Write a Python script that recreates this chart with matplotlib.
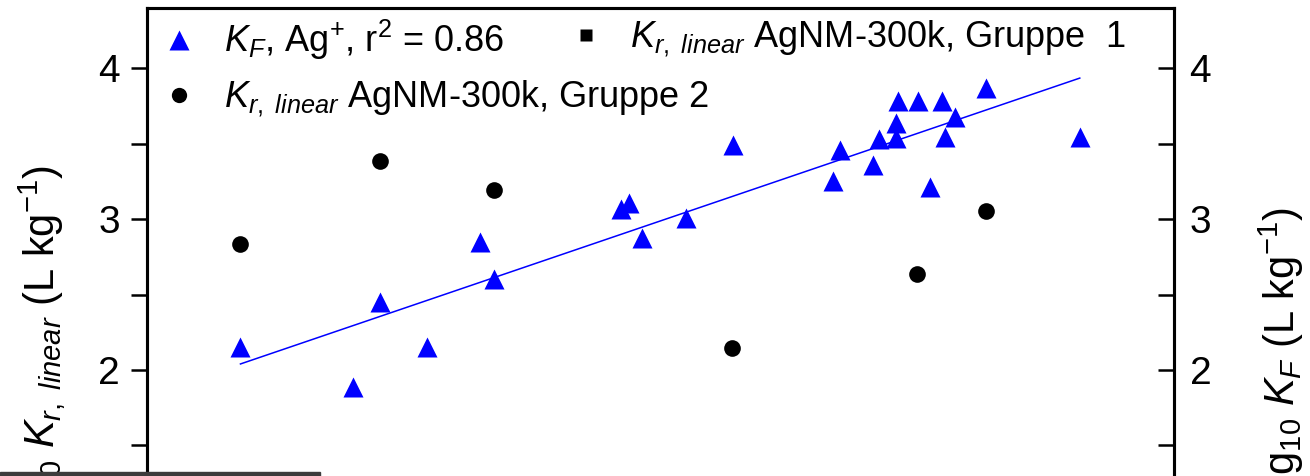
import matplotlib
matplotlib.use("Agg")
import matplotlib.pyplot as plt
from matplotlib.lines import Line2D
from matplotlib.patches import Rectangle
from matplotlib.ticker import MultipleLocator

plt.rcParams["font.family"] = ["Liberation Sans", "DejaVu Sans"]
plt.rcParams["mathtext.fontset"] = "custom"
plt.rcParams["mathtext.rm"] = "Liberation Sans"
plt.rcParams["mathtext.it"] = "Liberation Sans:italic"

# log10 K_F for Ag+ (right axis)
kf_x = [0.91, 2.01, 2.27, 2.73, 3.24, 3.38, 4.61, 4.69, 4.82, 5.25, 5.70,
        6.68, 6.75, 7.07, 7.13, 7.29, 7.29, 7.31, 7.51, 7.74, 7.87, 7.77,
        7.62, 8.17, 9.08]
kf_y = [2.15, 1.89, 2.45, 2.15, 2.85, 2.60, 3.07, 3.11, 2.875, 3.01, 3.49,
        3.25, 3.46, 3.36, 3.53, 3.54, 3.64, 3.78, 3.78, 3.78, 3.68, 3.545,
        3.21, 3.87, 3.545]

# linear regression of K_F
fit_x = [0.91, 9.08]
fit_y = [2.04, 3.935]

# K_r,linear AgNM-300k (left axis)
gruppe1_x = []
gruppe1_y = []
gruppe2_x = [0.91, 2.27, 3.38, 5.69, 7.50, 8.17]
gruppe2_y = [2.835, 3.385, 3.19, 2.146, 2.635, 3.054]

y_min, y_max = 1.0, 4.4

fig = plt.figure(figsize=(13.1, 4.76), dpi=100)
ax = fig.add_axes([0.1122, -0.0942, 0.7842, 1.0775])
ax2 = ax.twinx()

ax.plot(gruppe1_x, gruppe1_y, "s", color="black", ms=10)
ax.plot(gruppe2_x, gruppe2_y, "o", color="black", ms=12, mec="none")
ax2.plot(kf_x, kf_y, "^", color="#0000ff", ms=14, mec="none")
ax2.plot(fit_x, fit_y, "-", color="#0000ff", lw=1.1)

for a in (ax, ax2):
    a.set_ylim(y_min, y_max)
    a.set_xlim(0, 10)
    a.yaxis.set_major_locator(MultipleLocator(1))
    a.yaxis.set_minor_locator(MultipleLocator(0.5))
    for s in a.spines.values():
        s.set_linewidth(2.2)

ax.set_xticks([])
ax.tick_params(axis="y", which="both", direction="out", length=11.5,
               width=1.8, labelsize=28, pad=8)
ax2.tick_params(axis="y", which="both", direction="in", length=11.5,
                width=1.8, labelsize=28, pad=11)

ax.set_ylabel(r"log$_{10}$ $K_{r,\ linear}$ (L kg$^{-1}$)", fontsize=30)
ax.yaxis.set_label_coords(-0.077, 0.32)
ax2.set_ylabel(r"log$_{10}$ $K_F$ (L kg$^{-1}$)", fontsize=30)
ax2.yaxis.set_label_coords(1.080, 0.32)

tri = Line2D([], [], ls="none", marker="^", color="#0000ff", ms=14, mec="none")
dot = Line2D([], [], ls="none", marker="o", color="black", ms=11, mec="none")
sq = Line2D([], [], ls="none", marker="s", color="black", ms=9, mec="none")

leg_kw = dict(loc="upper left", frameon=False, fontsize=26, handlelength=1.0,
              handletextpad=0.72, labelspacing=0.45, borderaxespad=0.0)
leg1 = ax2.legend([tri, dot],
                  [r"$K_F$, Ag$^{+}$, r$^{2}$ = 0.86",
                   r"$K_{r,\ linear}$ AgNM-300k, Gruppe 2"],
                  bbox_to_anchor=(0.0, 1.008), **leg_kw)
ax2.add_artist(leg1)
ax2.legend([sq], [r"$K_{r,\ linear}$ AgNM-300k, Gruppe  1"],
           bbox_to_anchor=(0.396, 1.008), **leg_kw)

fig.patches.append(Rectangle((0, 0), 320 / 1310, 4 / 476,
                             transform=fig.transFigure, color="#3c3c3c",
                             zorder=5))

fig.savefig("out.png", dpi=100)
